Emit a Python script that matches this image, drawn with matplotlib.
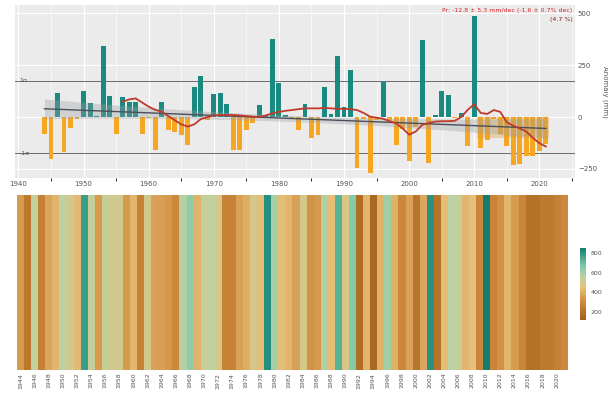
import numpy as np
import matplotlib
matplotlib.use("Agg")
import matplotlib.pyplot as plt
from matplotlib.colors import LinearSegmentedColormap, Normalize

years = list(range(1944, 2022))
anomaly = [
    -80, -200, 115, -170, -55, -10, 125, 67, 5, 345,
    104, -80, 96, 72, 72, -80, -5, -160, 72, -62,
    -70, -86, -134, 145, 198, -15, 109, 117, 62, -158,
    -158, -62, -30, 58, 10, 378, 162, 10, -10, -62,
    62, -102, -85, 145, 15, 293, 50, 225, -246, -10,
    -268, -15, 170, -20, -134, -60, -214, -50, 373, -222,
    10, 125, 106, -5, 20, -142, 490, -150, -110, -10,
    -80, -142, -230, -225, -190, -190, -165, -130,
]
smooth_years = list(range(1956, 2022))
smooth = [
    74, 85, 90, 70, 50, 35, 26, 5, -15, -35,
    -46, -35, -10, 0, 8, 10, 10, 10, 8, 5,
    2, 0, 8, 18, 25, 30, 34, 38, 42, 42,
    42, 44, 42, 40, 40, 38, 34, 20, 2, -3,
    -8, -20, -30, -55, -85, -70, -38, -28, -22, -20,
    -20, -18, 0, 35, 62, 20, 15, 34, 25, -25,
    -42, -55, -70, -100, -126, -142,
]
trend_start, trend_end = 40, -55
recent_years = [2011, 2021]
recent_level = -100
sigma = 175
mean_total = 430
cbar_ticks = [200, 400, 600, 800]
annot1 = "Pr: -12.8 ± 5.3 mm/dec (-1.6 ± 0.7% dec)"
annot2 = "(4.7 %)"

yrs = np.array(years)
an = np.array(anomaly, dtype=float)

fig = plt.figure(figsize=(6.08, 3.96), dpi=100)
ax = fig.add_axes([0.025, 0.55, 0.921, 0.437])
ax.set_facecolor("#ebebeb")
for s in ax.spines.values():
    s.set_visible(False)
ax.set_axisbelow(True)
ax.grid(True, color="white", linewidth=0.8)
ax.set_xticks(np.arange(1940, 2026, 5), minor=True)
ax.grid(True, which="minor", color="white", linewidth=0.4)

cols = np.where(an >= 0, "#1a8a80", "#f5a623")
ax.bar(yrs, an, width=0.75, color=cols, zorder=2)

# recent period shading
ax.fill_between([recent_years[0] - 0.5, recent_years[1] + 0.5], recent_level, 0,
                color="#e0a030", alpha=0.35, zorder=3, linewidth=0)

# linear trend with CI band
tx = np.linspace(years[0], years[-1], 100)
tline = trend_start + (trend_end - trend_start) * (tx - years[0]) / (years[-1] - years[0])
mid = 0.5 * (years[0] + years[-1])
half = 15 + 33 * ((tx - mid) / (0.5 * (years[-1] - years[0]))) ** 2
ax.fill_between(tx, tline - half, tline + half, color="#9aa0a6", alpha=0.35, zorder=3, linewidth=0)
ax.plot(tx, tline, color="#4a4f5a", linewidth=1.0, zorder=4)

ax.plot(smooth_years, smooth, color="#c0392b", linewidth=1.3, zorder=5)

ax.axhline(sigma, color="#555555", linewidth=0.6, zorder=1)
ax.axhline(-sigma, color="#555555", linewidth=0.6, zorder=1)

ax.set_xlim(1939.5, 2025.5)
ax.set_ylim(-295, 540)
ax.set_xticks(np.arange(1940, 2021, 10))
ax.tick_params(axis="x", labelsize=5, length=0, pad=2, colors="#555555")
ax.yaxis.tick_right()
ax.yaxis.set_label_position("right")
ax.set_yticks([-250, 0, 250, 500])
ax.tick_params(axis="y", labelsize=5, length=0, pad=2, colors="#555555")
ax.set_ylabel("Anomaly (mm)", fontsize=5, color="#555555", rotation=270, labelpad=8)
ax.text(1940.2, sigma, "1σ", fontsize=4.5, color="#555555", va="center")
ax.text(1940.2, -sigma, "-1σ", fontsize=4.5, color="#555555", va="center")
ax.text(0.995, 0.985, annot1, transform=ax.transAxes, ha="right", va="top", fontsize=4.5, color="#d62728")
ax.text(0.995, 0.93, annot2, transform=ax.transAxes, ha="right", va="top", fontsize=4.5, color="#8b1a1a")

# heatmap
cmap = LinearSegmentedColormap.from_list("pr", [
    (0.0, "#a0601a"), (0.25, "#cf8a3c"), (0.45, "#e6c07a"),
    (0.6, "#bcd2a4"), (0.75, "#7cc9a8"), (1.0, "#0f7f70")])
norm = Normalize(vmin=120, vmax=850)
hx = fig.add_axes([0.028, 0.066, 0.905, 0.442])
totals = mean_total + an
hx.imshow(totals[np.newaxis, :], aspect="auto", cmap=cmap, norm=norm,
          extent=[years[0] - 0.5, years[-1] + 0.5, 0, 1])
for s in hx.spines.values():
    s.set_visible(False)
hx.set_yticks([])
hx.set_xticks(years[::2])
hx.set_xticklabels([str(y) for y in years[::2]], rotation=90, fontsize=4.5, color="#555555")
hx.tick_params(axis="x", length=0, pad=2)

cax = fig.add_axes([0.954, 0.192, 0.01, 0.182])
cb = fig.colorbar(plt.cm.ScalarMappable(norm=norm, cmap=cmap), cax=cax, ticks=cbar_ticks)
cb.outline.set_visible(False)
cb.ax.tick_params(labelsize=4.5, length=0, pad=3, colors="#555555")

fig.savefig("out.png", dpi=100)
